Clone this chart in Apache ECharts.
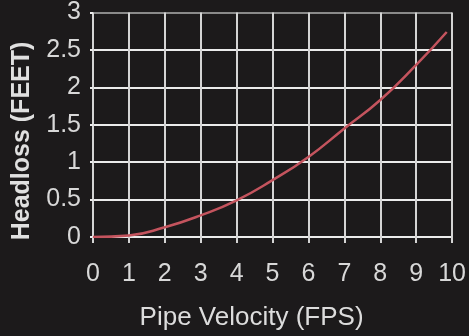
<!DOCTYPE html>
<html>
<head>
<meta charset="utf-8">
<script src="https://cdn.jsdelivr.net/npm/echarts@6/dist/echarts.min.js"></script>
<style>
  html, body { margin: 0; padding: 0; background: #1c1a1b; }
  #chart { width: 469px; height: 336px; }
</style>
</head>
<body>
<div id="chart"></div>
<script>
// Pipe velocity (feet per second) and the headloss it produces (feet)
const velocity = [0, 1, 2, 3, 4, 5, 6, 7, 8, 9, 9.85];
const headloss = [0, 0.02, 0.13, 0.29, 0.49, 0.76, 1.07, 1.45, 1.83, 2.3, 2.74];

const xTicks = { min: 0, max: 10, step: 1 };
const yTicks = { min: 0, max: 3, step: 0.5 };

const labelFont = "'Liberation Sans', Arial, sans-serif";
const nameFont = "'Liberation Sans', Arial, sans-serif";

const chart = echarts.init(document.getElementById('chart'));

chart.setOption({
  backgroundColor: '#1c1a1b',
  animation: false,
  grid: { left: 93, right: 15, top: 12, bottom: 94 },
  xAxis: {
    type: 'value',
    min: xTicks.min,
    max: xTicks.max,
    interval: xTicks.step,
    name: 'Pipe Velocity (FPS)',
    nameLocation: 'middle',
    nameGap: 68,
    nameTextStyle: { color: '#dcdcdc', fontFamily: nameFont, fontSize: 26, padding: [0, 42, 0, 0] },
    axisLine: { show: false },
    axisTick: { show: true, length: 6, lineStyle: { color: '#d4d4d4', width: 2 } },
    axisLabel: { color: '#d8d8d8', fontFamily: labelFont, fontSize: 25, margin: 25 },
    splitLine: { show: true, lineStyle: { color: '#d4d4d4', width: 2 } }
  },
  yAxis: {
    type: 'value',
    min: yTicks.min,
    max: yTicks.max,
    interval: yTicks.step,
    axisLine: { show: false },
    axisTick: { show: true, length: 3, lineStyle: { color: '#ebebeb', width: 2 } },
    axisLabel: { color: '#d8d8d8', fontFamily: labelFont, fontSize: 25, margin: 12 },
    splitLine: {
      show: true,
      lineStyle: {
        color: ['#ebebeb', '#ebebeb', '#ebebeb', '#ebebeb', '#ebebeb', '#ebebeb', '#8a8a8a'],
        width: 2
      }
    }
  },
  graphic: [{
    type: 'text',
    x: 22,
    y: 141,
    rotation: Math.PI / 2,
    style: {
      text: 'Headloss (FEET)',
      fill: '#e0e0e0',
      font: "bold 25px 'Liberation Sans', Arial, sans-serif",
      align: 'center',
      verticalAlign: 'middle'
    }
  }],
  series: [{
    type: 'line',
    data: velocity.map((v, i) => [v, headloss[i]]),
    smooth: true,
    showSymbol: false,
    lineStyle: { color: '#c4545e', width: 2.5 },
    z: 3
  }]
});
</script>
</body>
</html>
